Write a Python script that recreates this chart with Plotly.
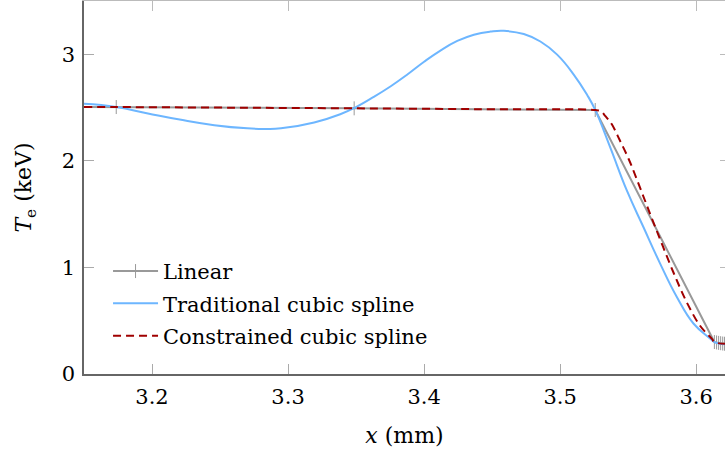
import plotly.graph_objects as go

# ---------------- data ----------------
linear_x = [3.000, 3.1737, 3.3486, 3.5258, 3.6134, 3.6150, 3.6165, 3.6180, 3.6195, 3.6208, 3.6222]
linear_y = [2.515, 2.505, 2.493, 2.477, 0.300, 0.296, 0.292, 0.289, 0.286, 0.284, 0.282]

trad_x = [3.150, 3.1737, 3.197, 3.2214, 3.2458, 3.270, 3.2825, 3.2948, 3.3192, 3.3388,
          3.3486, 3.363, 3.3755, 3.3877, 3.400, 3.412, 3.4244, 3.4366, 3.4488, 3.4586,
          3.4733, 3.4855, 3.4978, 3.510, 3.5198, 3.5258, 3.5369, 3.5491, 3.5613, 3.5736,
          3.5858, 3.598, 3.6102, 3.6134, 3.6222]
trad_y = [2.535, 2.505, 2.445, 2.385, 2.335, 2.305, 2.300, 2.305, 2.360, 2.440,
          2.495, 2.600, 2.700, 2.810, 2.930, 3.035, 3.125, 3.184, 3.213, 3.220,
          3.190, 3.120, 2.997, 2.810, 2.620, 2.478, 2.124, 1.720, 1.377, 1.034,
          0.723, 0.474, 0.334, 0.300, 0.278]

cons_x = [3.150, 3.1737, 3.26, 3.3486, 3.44, 3.5258, 3.5298, 3.5333, 3.538, 3.5436,
          3.5503, 3.556, 3.5638, 3.5736, 3.5834, 3.5932, 3.603, 3.6116, 3.6134, 3.6222]
cons_y = [2.506, 2.505, 2.499, 2.493, 2.485, 2.477, 2.467, 2.420, 2.343, 2.200,
          2.020, 1.840, 1.580, 1.260, 0.950, 0.670, 0.450, 0.330, 0.300, 0.282]

x_ticks = [3.2, 3.3, 3.4, 3.5, 3.6]
y_ticks = [0, 1, 2, 3]

FONT = "DejaVu Serif"
FS_TICK = 21
FS_TITLE = 22
FS_LEG = 21

fig = go.Figure()

fig.add_trace(go.Scatter(
    x=linear_x, y=linear_y, name="Linear", mode="lines+markers", legendgroup="a",
    line=dict(color="#999999", width=2),
    marker=dict(symbol="line-ns", size=10, line=dict(color="#999999", width=1)),
))
fig.add_trace(go.Scatter(
    x=trad_x, y=trad_y, name="Traditional cubic spline", mode="lines", legendgroup="b",
    line=dict(color="#6db6ff", width=2, shape="spline", smoothing=1.3),
))
fig.add_trace(go.Scatter(
    x=cons_x, y=cons_y, name="Constrained cubic spline", mode="lines", legendgroup="c",
    line=dict(color="#a00000", width=2, dash="8px,5px", shape="spline", smoothing=1.0),
))
# invisible helper trace for the mirrored (top/right) axes
fig.add_trace(go.Scatter(x=[3.3], y=[1], xaxis="x2", yaxis="y2", mode="markers",
                         marker=dict(opacity=0), showlegend=False, hoverinfo="skip"))

x_range = [3.15, 3.6212]
y_range = [0, 3.5]

fig.update_layout(
    width=725, height=457,
    margin=dict(l=84, r=0, t=1, b=83),
    paper_bgcolor="white", plot_bgcolor="white",
    font=dict(family=FONT, size=FS_TICK, color="black"),
    showlegend=True,
    legend=dict(
        x=0.0375, y=0.33, xanchor="left", yanchor="top",
        bgcolor="rgba(0,0,0,0)", borderwidth=0,
        font=dict(family=FONT, size=FS_LEG), itemwidth=45, tracegroupgap=2,
    ),
    xaxis=dict(
        range=x_range, tickvals=x_ticks, ticktext=[f"{v:.1f}" for v in x_ticks],
        ticks="inside", ticklen=10, tickcolor="#aaaaaa", tickwidth=1,
        showline=True, linecolor="#666666", linewidth=1.5,
        showgrid=False, zeroline=False, ticklabelstandoff=3,
        tickfont=dict(family=FONT, size=FS_TICK),
        title=dict(text="<i>x</i> (mm)", font=dict(family=FONT, size=FS_TITLE), standoff=20),
    ),
    yaxis=dict(
        range=y_range, tickvals=y_ticks,
        ticks="inside", ticklen=10, tickcolor="#aaaaaa", tickwidth=1,
        showline=True, linecolor="#666666", linewidth=1.5,
        showgrid=False, zeroline=False, ticklabelstandoff=3,
        tickfont=dict(family=FONT, size=FS_TICK),
        title=dict(text="<i>T</i><sub>e</sub> (keV)", font=dict(family=FONT, size=FS_TITLE), standoff=24),
    ),
    xaxis2=dict(
        overlaying="x", matches="x", side="top", range=x_range, tickvals=x_ticks,
        ticks="inside", ticklen=10, tickcolor="#bbbbbb", tickwidth=1,
        showticklabels=False, showline=True, linecolor="#bbbbbb", linewidth=1,
        showgrid=False, zeroline=False,
    ),
    yaxis2=dict(
        overlaying="y", matches="y", side="right", range=y_range, tickvals=y_ticks,
        ticks="inside", ticklen=5, tickcolor="#bbbbbb", tickwidth=1,
        showticklabels=False, showline=False,
        showgrid=False, zeroline=False,
    ),
)

fig.write_html("out.html")
